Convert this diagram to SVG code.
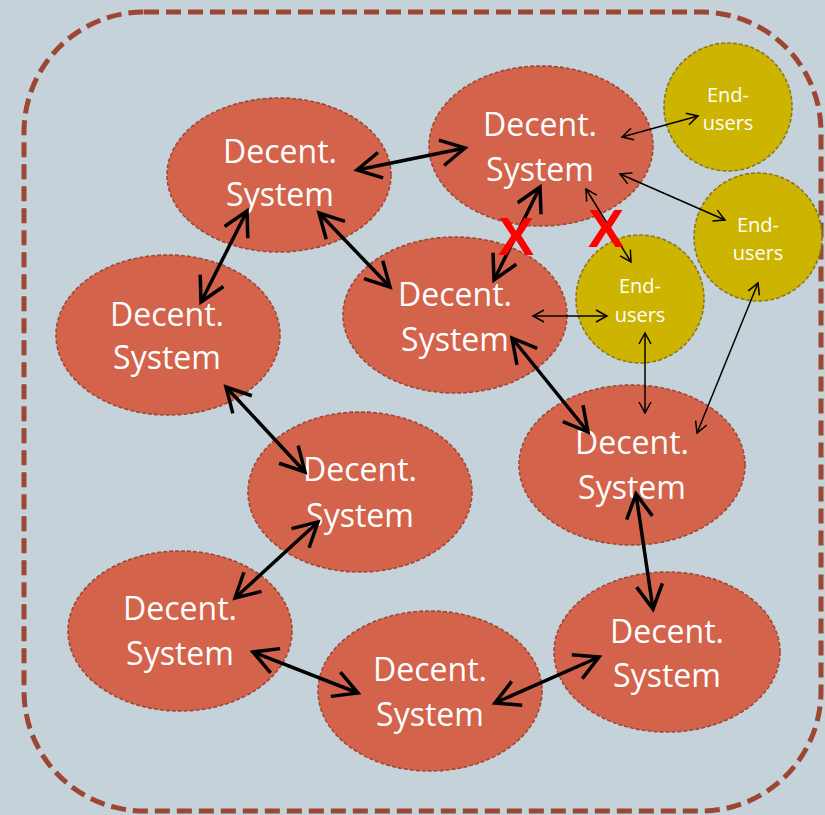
<svg xmlns="http://www.w3.org/2000/svg" width="825" height="815" viewBox="0 0 825 815">
<style>
.ds{fill:#d3634b;stroke:#9e4835;stroke-width:1.6;stroke-dasharray:4 2}
.eu{fill:#ccb400;stroke:#8a7820;stroke-width:1.6;stroke-dasharray:4 2}
.dt{font-family:"Open Sans","Liberation Sans",sans-serif;font-size:32px;fill:#ffffff;text-anchor:middle}
.et{font-family:"Open Sans","Liberation Sans",sans-serif;font-size:20px;fill:#ffffff;text-anchor:middle}
.thick{stroke:#000;stroke-width:3.5;fill:none;marker-start:url(#hk);marker-end:url(#hk)}
.thin{stroke:#000;stroke-width:1.5;fill:none;marker-start:url(#hn);marker-end:url(#hn)}
.x{font-family:"Liberation Sans",Arial,sans-serif;font-weight:bold;font-size:54px;fill:#ff0000;text-anchor:middle}
</style>
<defs>
<marker id="hk" markerUnits="userSpaceOnUse" viewBox="-30 -16 34 32" refX="0" refY="0" markerWidth="34" markerHeight="32" orient="auto-start-reverse">
<path d="M -24 -13 L 0 0 L -24 13" fill="none" stroke="#000" stroke-width="3.5" stroke-linejoin="miter"/>
</marker>
<marker id="hn" markerUnits="userSpaceOnUse" viewBox="-14 -8 16 16" refX="0" refY="0" markerWidth="16" markerHeight="16" orient="auto-start-reverse">
<path d="M -11 -6 L 0 0 L -11 6" fill="none" stroke="#000" stroke-width="1.5"/>
</marker>
</defs>
<rect x="0" y="0" width="825" height="815" fill="#c6d2d9"/>
<rect id="boundary" x="24" y="12" width="797" height="799" rx="120" ry="120" fill="none" stroke="#9c4633" stroke-width="5" stroke-dasharray="15 7"/>

<g id="ds1"><ellipse class="ds" cx="279" cy="175" rx="112" ry="77"/><text class="dt" x="280" y="163">Decent.</text><text class="dt" x="280" y="206">System</text></g>
<g id="ds2"><ellipse class="ds" cx="541" cy="146" rx="112" ry="80"/><text class="dt" x="540" y="136">Decent.</text><text class="dt" x="540" y="181">System</text></g>
<g id="ds3"><ellipse class="ds" cx="168" cy="335" rx="112" ry="80"/><text class="dt" x="167" y="326">Decent.</text><text class="dt" x="167" y="369">System</text></g>
<g id="ds4"><ellipse class="ds" cx="455" cy="315" rx="112" ry="78"/><text class="dt" x="455" y="306">Decent.</text><text class="dt" x="455" y="351">System</text></g>
<g id="ds5"><ellipse class="ds" cx="632" cy="465" rx="113" ry="80"/><text class="dt" x="632" y="454">Decent.</text><text class="dt" x="632" y="499">System</text></g>
<g id="ds6"><ellipse class="ds" cx="360" cy="492" rx="112" ry="80"/><text class="dt" x="360" y="481">Decent.</text><text class="dt" x="360" y="527">System</text></g>
<g id="ds7"><ellipse class="ds" cx="180" cy="631" rx="112" ry="80"/><text class="dt" x="180" y="620">Decent.</text><text class="dt" x="180" y="665">System</text></g>
<g id="ds8"><ellipse class="ds" cx="430" cy="691" rx="112" ry="80"/><text class="dt" x="430" y="681">Decent.</text><text class="dt" x="430" y="726">System</text></g>
<g id="ds9"><ellipse class="ds" cx="667" cy="652" rx="113" ry="80"/><text class="dt" x="667" y="643">Decent.</text><text class="dt" x="667" y="687">System</text></g>

<g id="euA"><circle class="eu" cx="728" cy="107" r="64"/><text class="et" x="728" y="102">End-</text><text class="et" x="728" y="130">users</text></g>
<g id="euB"><circle class="eu" cx="758" cy="237" r="64"/><text class="et" x="758" y="232">End-</text><text class="et" x="758" y="260">users</text></g>
<g id="euC"><circle class="eu" cx="640" cy="299" r="64"/><text class="et" x="640" y="293">End-</text><text class="et" x="640" y="322">users</text></g>

<g id="connectors">
<line class="thick" x1="357" y1="170" x2="465" y2="148"/>
<line class="thick" x1="319" y1="213" x2="390" y2="287"/>
<line class="thick" x1="247" y1="211" x2="201" y2="302"/>
<line class="thick" x1="540" y1="187" x2="494" y2="280"/>
<line class="thick" x1="226" y1="387" x2="305" y2="472"/>
<line class="thick" x1="512" y1="338" x2="588" y2="432"/>
<line class="thick" x1="318" y1="522" x2="235" y2="598"/>
<line class="thick" x1="636" y1="494" x2="653" y2="609"/>
<line class="thick" x1="253" y1="652" x2="358" y2="693"/>
<line class="thick" x1="495" y1="703" x2="599" y2="657"/>
<line class="thin" x1="622" y1="137" x2="698" y2="116"/>
<line class="thin" x1="620" y1="174" x2="725" y2="220"/>
<line class="thin" x1="586" y1="189" x2="631" y2="262"/>
<line class="thin" x1="533" y1="316" x2="607" y2="316"/>
<line class="thin" x1="645" y1="333" x2="645" y2="413"/>
<line class="thin" x1="758" y1="283" x2="697" y2="433"/>
</g>
<g id="marks">
<text class="x" x="516" y="255">X</text>
<text class="x" x="606" y="247">X</text>
</g>
</svg>
